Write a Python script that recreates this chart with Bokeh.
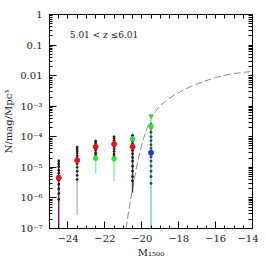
from bokeh.plotting import figure
from bokeh.models import FixedTicker, SingleIntervalTicker, LinearAxis, LogAxis, Label
from bokeh.embed import file_html
from bokeh.resources import INLINE

# ---------------- data ----------------
# red points (median)
red_m = [-24.5, -23.5, -22.5, -21.5, -20.5]
red_phi = [4.6e-6, 1.7e-5, 4.7e-5, 5.8e-5, 4.7e-5]

# green points
green_m = [-22.5, -21.5, -20.5, -19.5]
green_phi = [2.0e-5, 1.9e-5, 8.5e-5, 2.2e-4]
green_top_m = [-19.5]
green_top_phi = [4.8e-4]

# blue point
blue_m = [-19.5]
blue_phi = [3.0e-5]

# error-bar ranges
purple_m, purple_lo, purple_hi = [-24.5], [1e-7], [1.8e-5]
gray_m, gray_lo, gray_hi = [-23.5, -22.5, -21.5], [2.7e-7, 2.5e-5, 2.2e-5], [4.8e-5, 7.5e-5, 1.0e-4]
green_bar_m = [-22.5, -21.5, -20.5, -19.5]
green_bar_lo = [6.2e-6, 3.6e-6, 5.0e-5, 1.3e-4]
green_bar_hi = [8.0e-5, 1.0e-4, 1.3e-4, 5.0e-4]
dark_m, dark_lo, dark_hi = [-20.5], [1.5e-6], [1.2e-4]
cyan_m, cyan_lo, cyan_hi = [-19.5], [1e-7], [2.8e-4]

# individual realisations (small dots)
dots_245 = [1.6e-5, 1.3e-5, 1.05e-5, 8e-6, 6.5e-6, 5e-6, 3.8e-6, 2.8e-6, 2e-6, 1.4e-6, 9e-7]
dots_235 = [4.6e-5, 4.0e-5, 3.4e-5, 2.9e-5, 2.4e-5, 2.0e-5, 1.6e-5, 1.3e-5, 1.0e-5, 7.5e-6, 5.5e-6, 4e-6]
dots_225 = [7.2e-5, 6.4e-5, 5.6e-5, 4.9e-5, 4.2e-5, 3.6e-5, 3.0e-5, 2.6e-5]
dots_215 = [1.0e-4, 8.8e-5, 7.6e-5, 6.6e-5, 5.6e-5, 4.8e-5, 4.0e-5, 3.3e-5, 2.7e-5, 2.3e-5]
dots_205 = [1.1e-4, 9e-5, 7.2e-5, 5.8e-5, 4.6e-5, 3.6e-5, 2.8e-5, 2.1e-5, 1.6e-5, 1.1e-5, 7.5e-6, 5e-6, 3.6e-6]
dots_195 = [2.6e-4, 1.9e-4, 1.4e-4, 1.0e-4, 7.5e-5, 5.5e-5, 4.2e-5, 2.2e-5, 1.6e-5, 1.1e-5, 7.5e-6, 5e-6, 3e-6]

# model luminosity function (dashed curve)
curve_m = [-20.85, -20.7, -20.5, -20.3, -20.1, -19.9, -19.7, -19.5, -19.25, -19.0,
           -18.6, -18.2, -17.7, -17.2, -16.6, -16.0, -15.3, -14.6, -14.0]
curve_phi = [1.0e-7, 4.0e-7, 2.0e-6, 8.9e-6, 3.2e-5, 8.9e-5, 2.0e-4, 3.8e-4, 6.8e-4, 1.05e-3,
             1.66e-3, 2.4e-3, 3.5e-3, 4.8e-3, 6.6e-3, 8.7e-3, 1.1e-2, 1.26e-2, 1.38e-2]

x_ticks = [-24, -22, -20, -18, -16, -14]
x_tick_labels = ["\u221224", "\u221222", "\u221220", "\u221218", "\u221216", "\u221214"]
y_ticks = [1e-7, 1e-6, 1e-5, 1e-4, 1e-3, 0.01, 0.1, 1.0]
y_tick_labels = ["10\u207b\u2077", "10\u207b\u2076", "10\u207b\u2075", "10\u207b\u2074",
                 "10\u207b\u00b3", "0.01", "0.1", "1"]

FONT = "DejaVu Serif"

p = figure(frame_width=203, frame_height=214, y_axis_type="log",
           x_range=(-25, -14), y_range=(1e-7, 1),
           output_backend="svg", toolbar_location=None,
           min_border_left=41, min_border_right=6, min_border_top=7, min_border_bottom=29)
p.margin = (7, 0, 0, 0)
p.grid.visible = False
p.outline_line_color = "black"
p.background_fill_color = "white"
p.border_fill_color = "white"

# curve
p.line(curve_m, curve_phi, line_color="#8c8c8c", line_width=1, line_dash="7 3")

# bars
p.segment(purple_m, purple_lo, purple_m, purple_hi, line_color="#6e2458", line_width=1.5)
p.segment(gray_m, gray_lo, gray_m, gray_hi, line_color="#bdbdbd", line_width=1.5)
p.segment(green_bar_m, green_bar_lo, green_bar_m, green_bar_hi, line_color="#9be89b", line_width=1.5)
p.segment(dark_m, dark_lo, dark_m, dark_hi, line_color="#5a3a40", line_width=1.5)
p.segment(cyan_m, cyan_lo, cyan_m, cyan_hi, line_color="#7fcfc0", line_width=1.5)

# dots
for m, vals, col in [(-24.5, dots_245, "#2a1020"), (-23.5, dots_235, "#222222"),
                     (-22.5, dots_225, "#222222"), (-21.5, dots_215, "#222222"),
                     (-20.5, dots_205, "#222222"), (-19.5, dots_195, "#1e4a42")]:
    p.scatter([m] * len(vals), vals, size=2, color=col)

p.scatter(green_top_m, green_top_phi, size=4, color="#2ee02e", marker="inverted_triangle")
p.scatter(green_m, green_phi, size=4.5, color="#2ee02e")
p.scatter(red_m, red_phi, size=5, color="#e8141c")
p.scatter(blue_m, blue_phi, size=5, color="#1a3cd0")

# axes styling
p.xaxis.ticker = SingleIntervalTicker(interval=2, num_minor_ticks=4)
p.xaxis.major_label_overrides = dict(zip(x_ticks, x_tick_labels))
minor_y = [k * d for d in [1e-7, 1e-6, 1e-5, 1e-4, 1e-3, 1e-2, 1e-1] for k in range(2, 10)]
p.yaxis.ticker = FixedTicker(ticks=y_ticks, minor_ticks=minor_y)
p.yaxis.major_label_overrides = dict(zip(y_ticks, y_tick_labels))

p.xaxis.axis_label = "M\u2081\u2085\u2080\u2080"
p.yaxis.axis_label = "N/mag/Mpc\u00b3"

for ax in [p.xaxis[0], p.yaxis[0]]:
    ax.major_tick_in = 7
    ax.major_tick_out = 0
    ax.minor_tick_in = 3
    ax.minor_tick_out = 0
    ax.major_label_text_font = FONT
    ax.major_label_text_font_size = "10px"
    ax.major_label_text_color = "#222222"
    ax.axis_label_text_font = FONT
    ax.axis_label_text_font_size = "10px"
    ax.axis_label_text_font_style = "normal"
    ax.axis_label_text_color = "#222222"
    ax.axis_line_color = "black"
    ax.major_tick_line_color = "black"
    ax.minor_tick_line_color = "black"
p.xaxis.major_label_standoff = 6
p.xaxis.axis_label_standoff = 2
p.yaxis.major_label_standoff = 7
p.yaxis.axis_label_standoff = 3

# mirrored tick axes (no labels): all tick positions given as minor ticks
x_all = [-25 + 0.5 * i for i in range(23)]
top = LinearAxis(ticker=FixedTicker(ticks=[], minor_ticks=x_all))
right = LogAxis(ticker=FixedTicker(ticks=[], minor_ticks=minor_y + y_ticks))
for ax in [top, right]:
    ax.major_tick_in = 0
    ax.major_tick_out = 0
    ax.minor_tick_in = 4
    ax.minor_tick_out = 0
    ax.major_label_standoff = 0
    ax.axis_line_color = "black"
    ax.minor_tick_line_color = "black"
p.add_layout(top, "above")
p.add_layout(right, "right")

p.add_layout(Label(x=-23.9, y=0.22, text="5.01 < z \u22646.01", text_font=FONT,
                   text_font_size="9px", text_baseline="middle", text_color="#222222"))

open("out.html", "w").write(file_html(p, INLINE))
